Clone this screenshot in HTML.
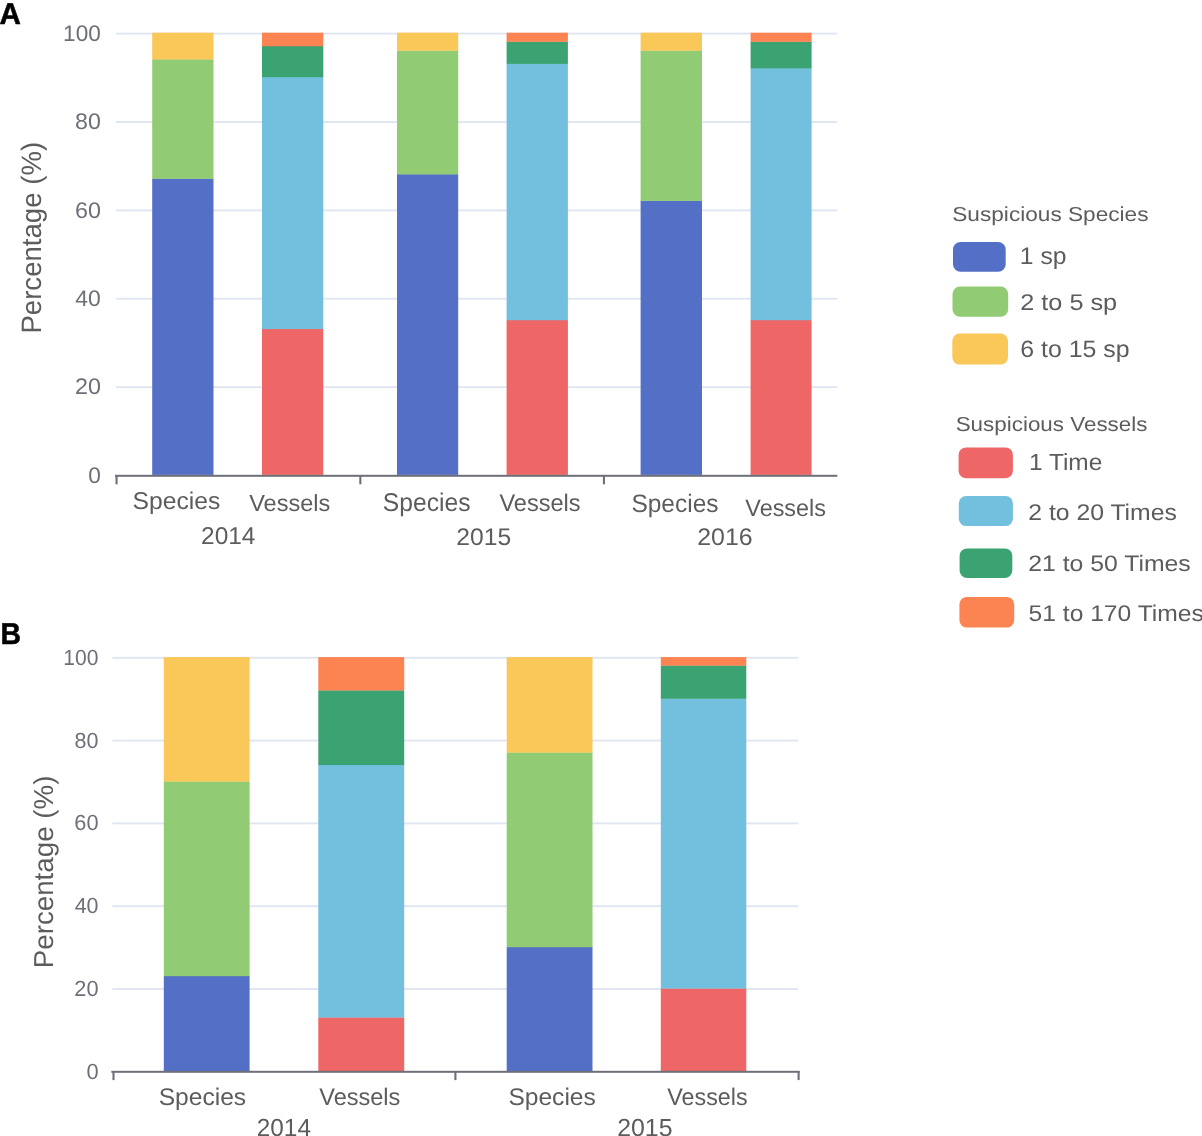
<!DOCTYPE html>
<html><head><meta charset="utf-8"><title>Figure</title>
<style>html,body{margin:0;padding:0;background:#fff;overflow:hidden}svg{will-change:transform;opacity:0.999}body{width:1202px;height:1136px;font-family:"Liberation Sans", sans-serif}</style></head>
<body>
<svg width="1202" height="1136" viewBox="0 0 1202 1136" style="display:block">
<rect width="1202" height="1136" fill="#fff"/>
<rect x="115.8" y="32.65" width="721.5" height="1.9" fill="#e0e6f1"/>
<rect x="115.8" y="121.03" width="721.5" height="1.9" fill="#e0e6f1"/>
<rect x="115.8" y="209.41" width="721.5" height="1.9" fill="#e0e6f1"/>
<rect x="115.8" y="297.79" width="721.5" height="1.9" fill="#e0e6f1"/>
<rect x="115.8" y="386.17" width="721.5" height="1.9" fill="#e0e6f1"/>
<rect x="152.20" y="178.53" width="61.30" height="296.37" fill="#5470c6"/>
<rect x="152.20" y="59.21" width="61.30" height="119.61" fill="#91cc75"/>
<rect x="152.20" y="32.70" width="61.30" height="26.81" fill="#fac858"/>
<rect x="262.00" y="328.77" width="61.30" height="146.13" fill="#ee6666"/>
<rect x="262.00" y="76.89" width="61.30" height="252.18" fill="#73c0de"/>
<rect x="262.00" y="45.96" width="61.30" height="31.23" fill="#3ba272"/>
<rect x="262.00" y="32.70" width="61.30" height="13.56" fill="#fc8452"/>
<rect x="397.00" y="174.11" width="61.20" height="300.79" fill="#5470c6"/>
<rect x="397.00" y="50.38" width="61.20" height="124.03" fill="#91cc75"/>
<rect x="397.00" y="32.70" width="61.20" height="17.98" fill="#fac858"/>
<rect x="506.60" y="319.94" width="61.30" height="154.96" fill="#ee6666"/>
<rect x="506.60" y="63.63" width="61.30" height="256.60" fill="#73c0de"/>
<rect x="506.60" y="41.54" width="61.30" height="22.39" fill="#3ba272"/>
<rect x="506.60" y="32.70" width="61.30" height="9.14" fill="#fc8452"/>
<rect x="640.60" y="200.62" width="61.40" height="274.28" fill="#5470c6"/>
<rect x="640.60" y="50.38" width="61.40" height="150.55" fill="#91cc75"/>
<rect x="640.60" y="32.70" width="61.40" height="17.98" fill="#fac858"/>
<rect x="750.60" y="319.94" width="61.00" height="154.96" fill="#ee6666"/>
<rect x="750.60" y="68.05" width="61.00" height="252.18" fill="#73c0de"/>
<rect x="750.60" y="41.54" width="61.00" height="26.81" fill="#3ba272"/>
<rect x="750.60" y="32.70" width="61.00" height="9.14" fill="#fc8452"/>
<rect x="115" y="474.8" width="722.3" height="2" fill="#6e7079"/>
<rect x="115.50" y="475" width="2.1" height="9.3" fill="#6e7079"/>
<rect x="359.30" y="475" width="2.1" height="9.3" fill="#6e7079"/>
<rect x="602.90" y="475" width="2.1" height="9.3" fill="#6e7079"/>
<rect x="112.4" y="656.85" width="685.8" height="1.9" fill="#e0e6f1"/>
<rect x="112.4" y="739.65" width="685.8" height="1.9" fill="#e0e6f1"/>
<rect x="112.4" y="822.45" width="685.8" height="1.9" fill="#e0e6f1"/>
<rect x="112.4" y="905.25" width="685.8" height="1.9" fill="#e0e6f1"/>
<rect x="112.4" y="988.05" width="685.8" height="1.9" fill="#e0e6f1"/>
<rect x="163.80" y="975.88" width="85.80" height="95.52" fill="#5470c6"/>
<rect x="163.80" y="781.30" width="85.80" height="194.88" fill="#91cc75"/>
<rect x="163.80" y="657.10" width="85.80" height="124.50" fill="#fac858"/>
<rect x="318.30" y="1017.28" width="85.90" height="54.12" fill="#ee6666"/>
<rect x="318.30" y="764.74" width="85.90" height="252.84" fill="#73c0de"/>
<rect x="318.30" y="690.22" width="85.90" height="74.82" fill="#3ba272"/>
<rect x="318.30" y="657.10" width="85.90" height="33.42" fill="#fc8452"/>
<rect x="506.70" y="946.90" width="85.80" height="124.50" fill="#5470c6"/>
<rect x="506.70" y="752.32" width="85.80" height="194.88" fill="#91cc75"/>
<rect x="506.70" y="657.10" width="85.80" height="95.52" fill="#fac858"/>
<rect x="660.80" y="988.30" width="85.50" height="83.10" fill="#ee6666"/>
<rect x="660.80" y="698.50" width="85.50" height="290.10" fill="#73c0de"/>
<rect x="660.80" y="665.38" width="85.50" height="33.42" fill="#3ba272"/>
<rect x="660.80" y="657.10" width="85.50" height="8.58" fill="#fc8452"/>
<rect x="111.3" y="1070.8" width="688.3" height="2" fill="#6e7079"/>
<rect x="112.45" y="1071" width="2.1" height="9.1" fill="#6e7079"/>
<rect x="454.35" y="1071" width="2.1" height="9.1" fill="#6e7079"/>
<rect x="797.55" y="1071" width="2.1" height="9.1" fill="#6e7079"/>
<rect x="953.0" y="242.1" width="52.70" height="29.70" rx="7.5" ry="7.5" fill="#5470c6"/>
<rect x="952.5" y="286.5" width="55.70" height="30.30" rx="7.5" ry="7.5" fill="#91cc75"/>
<rect x="952.3" y="333.5" width="55.70" height="31.10" rx="7.5" ry="7.5" fill="#fac858"/>
<rect x="958.6" y="447.4" width="54.30" height="30.80" rx="7.5" ry="7.5" fill="#ee6666"/>
<rect x="958.8" y="495.9" width="54.10" height="30.20" rx="7.5" ry="7.5" fill="#73c0de"/>
<rect x="959.6" y="548.4" width="52.70" height="29.60" rx="7.5" ry="7.5" fill="#3ba272"/>
<rect x="959.4" y="596.9" width="54.80" height="30.70" rx="7.5" ry="7.5" fill="#fc8452"/>
<g id="txt" text-rendering="geometricPrecision">
<text transform="translate(-0.46,24.10) scale(1.0564,1.0769)" font-family='"Liberation Sans", sans-serif' font-size="28" font-weight="bold" fill="#000" stroke="#000" stroke-width="0.5">A</text>
<text transform="translate(0.48,643.80) scale(1.0141,1.0821)" font-family='"Liberation Sans", sans-serif' font-size="28" font-weight="bold" fill="#000" stroke="#000" stroke-width="0.5">B</text>
<text transform="translate(63.10,40.80) scale(1.0277,1.0258)" font-family='"Liberation Sans", sans-serif' font-size="22" font-weight="normal" fill="#6e7079">100</text>
<text transform="translate(75.05,129.18) scale(1.0549,1.0258)" font-family='"Liberation Sans", sans-serif' font-size="22" font-weight="normal" fill="#6e7079">80</text>
<text transform="translate(74.94,217.56) scale(1.0593,1.0258)" font-family='"Liberation Sans", sans-serif' font-size="22" font-weight="normal" fill="#6e7079">60</text>
<text transform="translate(75.28,305.94) scale(1.0452,1.0258)" font-family='"Liberation Sans", sans-serif' font-size="22" font-weight="normal" fill="#6e7079">40</text>
<text transform="translate(74.94,394.32) scale(1.0593,1.0258)" font-family='"Liberation Sans", sans-serif' font-size="22" font-weight="normal" fill="#6e7079">20</text>
<text transform="translate(88.23,482.70) scale(1.0326,1.0258)" font-family='"Liberation Sans", sans-serif' font-size="22" font-weight="normal" fill="#6e7079">0</text>
<text transform="translate(63.26,664.70) scale(1.0281,1.0667)" font-family='"Liberation Sans", sans-serif' font-size="20.5" font-weight="normal" fill="#6e7079">100</text>
<text transform="translate(74.61,747.50) scale(1.0494,1.0667)" font-family='"Liberation Sans", sans-serif' font-size="20.5" font-weight="normal" fill="#6e7079">80</text>
<text transform="translate(74.34,830.30) scale(1.0619,1.0667)" font-family='"Liberation Sans", sans-serif' font-size="20.5" font-weight="normal" fill="#6e7079">60</text>
<text transform="translate(74.68,913.10) scale(1.0465,1.0667)" font-family='"Liberation Sans", sans-serif' font-size="20.5" font-weight="normal" fill="#6e7079">40</text>
<text transform="translate(74.34,995.90) scale(1.0619,1.0667)" font-family='"Liberation Sans", sans-serif' font-size="20.5" font-weight="normal" fill="#6e7079">20</text>
<text transform="translate(86.50,1078.70) scale(1.0667,1.0667)" font-family='"Liberation Sans", sans-serif' font-size="20.5" font-weight="normal" fill="#6e7079">0</text>
<text transform="translate(132.57,508.70) scale(1.0275,1.0114)" font-family='"Liberation Sans", sans-serif' font-size="24" font-weight="normal" fill="#5c5c5c">Species</text>
<text transform="translate(249.15,511.00) scale(0.9804,0.9714)" font-family='"Liberation Sans", sans-serif' font-size="24" font-weight="normal" fill="#5c5c5c">Vessels</text>
<text transform="translate(201.03,543.50) scale(1.0194,1.0149)" font-family='"Liberation Sans", sans-serif' font-size="24" font-weight="normal" fill="#5c5c5c">2014</text>
<text transform="translate(382.87,511.40) scale(1.0263,1.0686)" font-family='"Liberation Sans", sans-serif' font-size="24" font-weight="normal" fill="#5c5c5c">Species</text>
<text transform="translate(499.45,511.00) scale(0.9804,1.0000)" font-family='"Liberation Sans", sans-serif' font-size="24" font-weight="normal" fill="#5c5c5c">Vessels</text>
<text transform="translate(456.31,545.20) scale(1.0283,1.0030)" font-family='"Liberation Sans", sans-serif' font-size="24" font-weight="normal" fill="#5c5c5c">2015</text>
<text transform="translate(631.38,512.40) scale(1.0204,1.0514)" font-family='"Liberation Sans", sans-serif' font-size="24" font-weight="normal" fill="#5c5c5c">Species</text>
<text transform="translate(745.36,516.40) scale(0.9742,0.9886)" font-family='"Liberation Sans", sans-serif' font-size="24" font-weight="normal" fill="#5c5c5c">Vessels</text>
<text transform="translate(697.20,545.20) scale(1.0380,1.0030)" font-family='"Liberation Sans", sans-serif' font-size="24" font-weight="normal" fill="#5c5c5c">2016</text>
<text transform="translate(158.68,1105.00) scale(1.0240,1.0000)" font-family='"Liberation Sans", sans-serif' font-size="24" font-weight="normal" fill="#5c5c5c">Species</text>
<text transform="translate(319.25,1105.00) scale(0.9804,1.0000)" font-family='"Liberation Sans", sans-serif' font-size="24" font-weight="normal" fill="#5c5c5c">Vessels</text>
<text transform="translate(256.73,1136.20) scale(1.0155,1.0269)" font-family='"Liberation Sans", sans-serif' font-size="24" font-weight="normal" fill="#5c5c5c">2014</text>
<text transform="translate(508.38,1105.00) scale(1.0240,1.0000)" font-family='"Liberation Sans", sans-serif' font-size="24" font-weight="normal" fill="#5c5c5c">Species</text>
<text transform="translate(667.36,1105.00) scale(0.9693,1.0000)" font-family='"Liberation Sans", sans-serif' font-size="24" font-weight="normal" fill="#5c5c5c">Vessels</text>
<text transform="translate(617.20,1136.20) scale(1.0361,1.0269)" font-family='"Liberation Sans", sans-serif' font-size="24" font-weight="normal" fill="#5c5c5c">2015</text>
<text transform="translate(952.27,220.50) scale(1.0286,0.9187)" font-family='"Liberation Sans", sans-serif' font-size="22" font-weight="normal" fill="#5c5c5c">Suspicious Species</text>
<text transform="translate(1019.80,264.20) scale(1.0282,1.0000)" font-family='"Liberation Sans", sans-serif' font-size="24" font-weight="normal" fill="#5c5c5c">1 sp</text>
<text transform="translate(1020.29,310.30) scale(1.0518,0.9433)" font-family='"Liberation Sans", sans-serif' font-size="24" font-weight="normal" fill="#5c5c5c">2 to 5 sp</text>
<text transform="translate(1020.30,357.00) scale(1.0373,0.9851)" font-family='"Liberation Sans", sans-serif' font-size="24" font-weight="normal" fill="#5c5c5c">6 to 15 sp</text>
<text transform="translate(955.68,430.50) scale(1.0182,0.9187)" font-family='"Liberation Sans", sans-serif' font-size="22" font-weight="normal" fill="#5c5c5c">Suspicious Vessels</text>
<text transform="translate(1028.92,470.20) scale(1.0195,0.9714)" font-family='"Liberation Sans", sans-serif' font-size="24" font-weight="normal" fill="#5c5c5c">1 Time</text>
<text transform="translate(1028.31,519.50) scale(1.0310,0.9429)" font-family='"Liberation Sans", sans-serif' font-size="24" font-weight="normal" fill="#5c5c5c">2 to 20 Times</text>
<text transform="translate(1028.31,570.90) scale(1.0319,0.9314)" font-family='"Liberation Sans", sans-serif' font-size="24" font-weight="normal" fill="#5c5c5c">21 to 50 Times</text>
<text transform="translate(1028.57,620.60) scale(1.0260,0.9429)" font-family='"Liberation Sans", sans-serif' font-size="24" font-weight="normal" fill="#5c5c5c">51 to 170 Times</text>
<text transform="translate(41.20,333.62) rotate(-90) scale(0.9858,1.0025)" font-family='"Liberation Sans", sans-serif' font-size="28" font-weight="normal" fill="#5c5c5c">Percentage (%)</text>
<text transform="translate(52.80,968.23) rotate(-90) scale(0.9900,0.9778)" font-family='"Liberation Sans", sans-serif' font-size="28" font-weight="normal" fill="#5c5c5c">Percentage (%)</text>
</g>
</svg>
</body></html>
